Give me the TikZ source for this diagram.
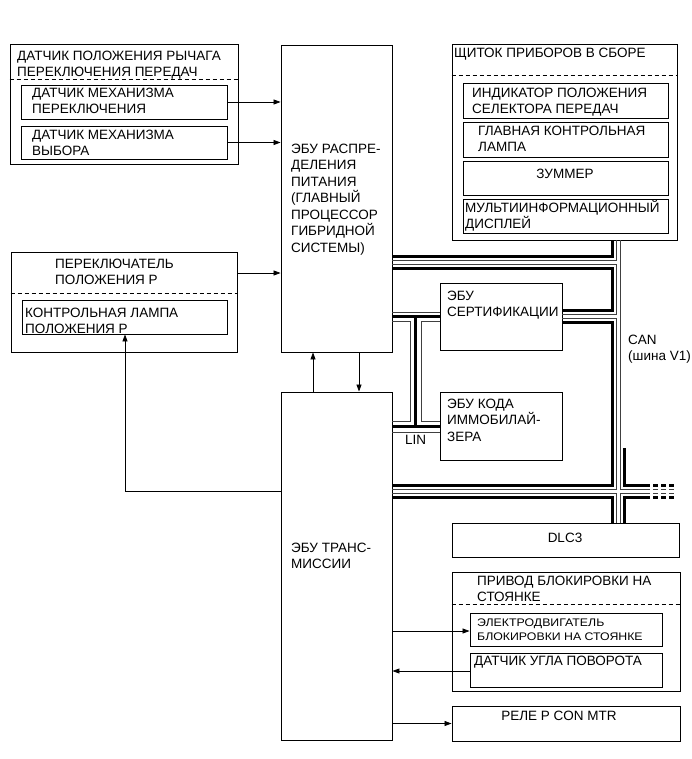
\documentclass[tikz,border=0pt]{standalone}
\usepackage{fontspec}
\setmainfont{Liberation Sans}
\newfontfamily\stretchfont[FakeStretch=1.12]{Liberation Sans}
\usetikzlibrary{arrows.meta,fit}
\newcommand\fM{\fontsize{13.5}{16.5}\selectfont}
\newcommand\fS{\stretchfont\fontsize{11}{14}\selectfont}
\newcommand\fl{\rule{0pt}{13pt}}
\newcommand\fls{\rule{0pt}{11pt}}
\begin{document}
\begin{tikzpicture}[x=1pt,y=-1pt,
  box/.style={draw, line width=0.9pt, inner sep=0pt},
  sep/.style={line width=0.8pt, dash pattern=on 4pt off 3pt},
  txt/.style={anchor=north west, inner sep=0pt, align=left, font=\fM, yshift=8.17pt},
  stxt/.style={anchor=north west, inner sep=0pt, align=left, font=\fS, yshift=7.06pt},
  ctxt/.style={anchor=base, inner sep=0pt, font=\fM, yshift=-4.83pt},
  arr/.style={line width=0.8pt, -{Triangle[length=7pt,width=5pt]}},
  blk/.style={line width=3pt},
  hol/.style={line width=0.6pt, black!75},
  dblk/.style={line width=3pt, dash pattern=on 5pt off 3pt},
  dhol/.style={line width=0.6pt, black!75, dash pattern=on 5pt off 3pt},
]
\useasboundingbox (0,0) rectangle (691,759);

% ---- boxes ----
\node[box, fit={(10,44) (238,164)}] (sl) {};
\node[box, fit={(21,85) (227,119)}] (sl1) {};
\node[box, fit={(21,126) (227,159)}] (sl2) {};
\node[box, fit={(281,45) (392,352)}] (pw) {};
\node[box, fit={(11,252) (237,352)}] (ps) {};
\node[box, fit={(22,300) (227,334)}] (pl) {};
\node[box, fit={(452,44) (677,240)}] (mt) {};
\node[box, fit={(463,83) (668,118)}] (m1) {};
\node[box, fit={(463,122) (668,157)}] (m2) {};
\node[box, fit={(463,161) (668,195)}] (m3) {};
\node[box, fit={(463,199) (668,233)}] (m4) {};
\node[box, fit={(440,283) (562,350)}] (ce) {};
\node[box, fit={(440,392) (562,460)}] (im) {};
\node[box, fit={(281,392) (392,740)}] (tr) {};
\node[box, fit={(452,523) (679,557)}] (dlc) {};
\node[box, fit={(452,572) (680,691)}] (pk) {};
\node[box, fit={(470,613) (662,646)}] (pk1) {};
\node[box, fit={(470,653) (662,687)}] (pk2) {};
\node[box, fit={(452,706) (680,741)}] (rl) {};

% dashed separators
\draw[sep] (sl.west |- 0,79) -- (sl.east |- 0,79);
\draw[sep] (ps.west |- 0,293) -- (ps.east |- 0,293);
\draw[sep] (mt.west |- 0,75) -- (mt.east |- 0,75);
\draw[sep] (pk.west |- 0,604) -- (pk.east |- 0,604);

% ---- texts ----
\node[txt] (t1) at (17,55) {\fl ДАТЧИК ПОЛОЖЕНИЯ РЫЧАГА\\ПЕРЕКЛЮЧЕНИЯ ПЕРЕДАЧ};
\node[txt] (t2) at (32,92) {\fl ДАТЧИК МЕХАНИЗМА\\ПЕРЕКЛЮЧЕНИЯ};
\node[txt] (t3) at (32,134) {\fl ДАТЧИК МЕХАНИЗМА\\ВЫБОРА};
\node[txt] (t4) at (291,148) {\fl ЭБУ РАСПРЕ-\\ДЕЛЕНИЯ\\ПИТАНИЯ\\(ГЛАВНЫЙ\\ПРОЦЕССОР\\ГИБРИДНОЙ\\СИСТЕМЫ)};
\node[txt] (t5) at (55,263) {\fl ПЕРЕКЛЮЧАТЕЛЬ\\ПОЛОЖЕНИЯ P};
\node[txt] (t6) at (25,312) {\fl КОНТРОЛЬНАЯ ЛАМПА\\ПОЛОЖЕНИЯ P};
\node[txt] (t7) at (454,52) {\fl ЩИТОК ПРИБОРОВ В СБОРЕ};
\node[txt] (t8) at (472,92) {\fl ИНДИКАТОР ПОЛОЖЕНИЯ\\СЕЛЕКТОРА ПЕРЕДАЧ};
\node[txt] (t9) at (478,130) {\fl ГЛАВНАЯ КОНТРОЛЬНАЯ\\ЛАМПА};
\node[ctxt] (t10) at (565,174) {ЗУММЕР};
\node[txt] (t11) at (465,207) {\fl МУЛЬТИИНФОРМАЦИОННЫЙ\\ДИСПЛЕЙ};
\node[txt] (t12) at (447,295) {\fl ЭБУ\\СЕРТИФИКАЦИИ};
\node[txt] (t13) at (447,403) {\fl ЭБУ КОДА\\ИММОБИЛАЙ-\\ЗЕРА};
\node[txt] (t14) at (405,439) {\fl LIN};
\node[txt] (t15) at (628,339) {\fl CAN\\(шина V1)};
\node[txt] (t16) at (291,547) {\fl ЭБУ ТРАНС-\\МИССИИ};
\node[ctxt] (t17) at (565,538) {DLC3};
\node[txt] (t18) at (477,580) {\fl ПРИВОД БЛОКИРОВКИ НА\\СТОЯНКЕ};
\node[stxt] (t19) at (477,622) {\fls ЭЛЕКТРОДВИГАТЕЛЬ\\БЛОКИРОВКИ НА СТОЯНКЕ};
\node[txt] (t20) at (474,660) {\fl ДАТЧИК УГЛА ПОВОРОТА};
\node[ctxt] (t21) at (559,716) {РЕЛЕ P CON MTR};

% ---- arrows ----
\draw[arr] (sl1.east) -- (sl1.east -| pw.west);
\draw[arr] (sl2.east) -- (sl2.east -| pw.west);
\draw[arr] (ps.east |- 0,273) -- (pw.west |- 0,273);
\draw[arr] (tr.north -| 313,0) -- (pw.south -| 313,0);
\draw[arr] (pw.south -| 359,0) -- (tr.north -| 359,0);
\draw[arr] (tr.west |- 0,491) -- (125,491) -- (pl.south -| 125,0);
\draw[arr] (tr.east |- 0,631) -- (pk1.west |- 0,631);
\draw[arr] (pk2.west |- 0,671) -- (tr.east |- 0,671);
\draw[arr] (tr.east |- rl.west) -- (rl.west);

% ---- CAN bus ----
% black wire
\draw[blk] (612,0 |- mt.south) -- (612,256) -- (pw.east |- 0,256);
\draw[blk] (pw.east |- 0,268) -- (612,268) -- (612,310) -- (ce.east |- 0,310);
\draw[blk] (ce.east |- 0,322) -- (612,322) -- (612,485) -- (tr.east |- 0,485);
\draw[blk] (tr.east |- 0,497) -- (612,497) -- (612,0 |- dlc.north);
\draw[blk] (624,448) -- (624,485) -- (650,485);
\draw[blk] (650,497) -- (624,497) -- (624,0 |- dlc.north);
\draw[dblk] (653,485) -- (675,485);
\draw[dblk] (653,497) -- (675,497);
% hollow wire
\draw[hol] (616,0 |- mt.south) -- (616,260) -- (pw.east |- 0,260);
\draw[hol] (pw.east |- 0,264) -- (616,264) -- (616,314) -- (ce.east |- 0,314);
\draw[hol] (ce.east |- 0,318) -- (616,318) -- (616,489) -- (tr.east |- 0,489);
\draw[hol] (tr.east |- 0,493) -- (616,493) -- (616,0 |- dlc.north);
\draw[hol] (620,0 |- mt.south) -- (620,489) -- (650,489);
\draw[hol] (650,493) -- (620,493) -- (620,0 |- dlc.north);
\draw[dhol] (653,489) -- (675,489);
\draw[dhol] (653,493) -- (675,493);

% ---- local bus (LIN) ----
\draw[hol] (pw.east |- 0,312) -- (ce.west |- 0,312);
\draw[blk] (pw.east |- 0,316) -- (ce.west |- 0,316);
\draw[blk] (415,316) -- (415,426);
\draw[blk] (tr.east |- 0,426) -- (im.west |- 0,426);
\draw[hol] (pw.east |- 0,321) -- (410,321) -- (410,421) -- (tr.east |- 0,421);
\draw[hol] (ce.west |- 0,321) -- (421,321) -- (421,421) -- (im.west |- 0,421);
\draw[hol] (tr.east |- 0,432) -- (im.west |- 0,432);
\end{tikzpicture}
\end{document}
